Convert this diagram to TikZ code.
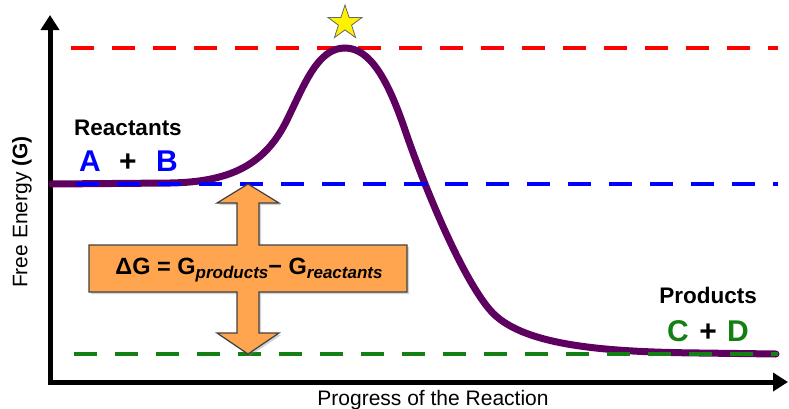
\documentclass[tikz,border=0pt]{standalone}
\usepackage{fontspec}
\setmainfont{Liberation Sans}
\usetikzlibrary{arrows.meta,shapes.geometric,shadows}

\definecolor{hillpurple}{HTML}{5E0060}
\definecolor{deltaorange}{HTML}{FFA54F}
\definecolor{prodgreen}{HTML}{138013}

\begin{document}
\begin{tikzpicture}[
  x=1pt, y=-1pt,
  axis/.style={line width=5pt, {Triangle[length=15pt,width=18pt]}-{Triangle[length=15pt,width=18pt]}},
  energyline/.style={line width=4pt, dash pattern=on 23pt off 18pt},
  hill/.style={hillpurple, line width=7pt, line cap=round},
  species/.style={font=\fontsize{30}{30}\selectfont\bfseries, anchor=base, inner sep=0pt},
  title/.style={font=\fontsize{22.5}{22.5}\selectfont\bfseries, anchor=base, inner sep=0pt},
  axlabel/.style={font=\fontsize{21}{21}\selectfont, inner sep=0pt}
]
\useasboundingbox (0,0) rectangle (789,408);

% axes
\draw[axis] (50,15) -- (50,382) -- (788,382);
\node[axlabel, rotate=90] (ylab) at (22,212) {Free Energy \textbf{(G)}};
\node[axlabel, anchor=base] (xlab) at (433,405) {Progress of the Reaction};

% energy levels
\draw[energyline, red] (71,48) -- (778,48);
\draw[hill] (52,184) -- (170,183)
  .. controls (230,182) and (265,165) .. (287,120)
  .. controls (305,83) and (318,48) .. (345,48)
  .. controls (370,48) and (388,80) .. (405,130)
  .. controls (422,180) and (460,275) .. (490,310)
  .. controls (520,345) and (600,352) .. (700,353) -- (776,354);
\draw[energyline, blue] (76,184) -- (778,184);
\draw[energyline, prodgreen] (74,354) -- (778,354);

\node[star, star points=5, star point ratio=2.6, minimum size=36pt, inner sep=0pt,
  fill=yellow, draw=black!60, line width=0.8pt] (ts) at (345,23) {};

% reactants and products
\node[title] (reac) at (128,135) {Reactants};
\node[species, blue] (a) at (90,171) {A};
\node[species] (plusab) at (128,171) {+};
\node[species, blue] (b) at (167,171) {B};

\node[title] (prod) at (708,303) {Products};
\node[species, prodgreen] (c) at (678,341) {C};
\node[species] (pluscd) at (708,341) {+};
\node[species, prodgreen] (d) at (738,341) {D};

% delta G arrow
\draw[fill=deltaorange, draw=black!75, line width=1.2pt,
  drop shadow={shadow xshift=2pt, shadow yshift=-2pt, opacity=0.35}]
  (248,184) -- (279,203) -- (259,203) -- (259,245) -- (407,245) -- (407,292)
  -- (259,292) -- (259,333) -- (279,333) -- (248,354) -- (217,333) -- (237,333)
  -- (237,292) -- (89,292) -- (89,245) -- (237,245) -- (237,203) -- (217,203) -- cycle;
\node[anchor=base, inner sep=0pt, font=\fontsize{23.5}{23.5}\selectfont\bfseries] (dg) at (249,274)
  {ΔG = G\raisebox{-4pt}{\fontsize{17}{17}\selectfont\itshape products}− G\raisebox{-4pt}{\fontsize{17}{17}\selectfont\itshape reactants}};

\end{tikzpicture}
\end{document}
